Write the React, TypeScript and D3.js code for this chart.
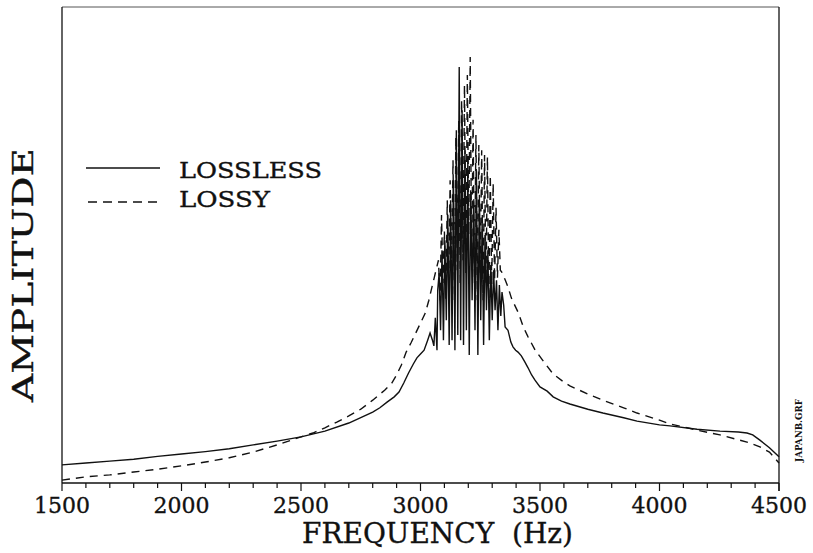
import React from "react";
import * as d3 from "d3";

// Frequency (Hz) and relative amplitude for the LOSSLESS curve
const FREQ_LOSSLESS = [
  1500, 1600, 1700, 1800, 1900, 2000, 2100, 2200, 2300, 2400, 2500, 2600, 2700,
  2800, 2830, 2860, 2890, 2910, 2930, 2950, 2970, 2985, 3000, 3015, 3030, 3040,
  3050, 3056, 3062, 3069, 3072, 3078, 3084, 3090, 3096, 3102, 3108, 3114, 3120,
  3126, 3132, 3138, 3144, 3150, 3156, 3162, 3168, 3174, 3180, 3186, 3192, 3198,
  3204, 3210, 3216, 3222, 3228, 3234, 3240, 3246, 3252, 3258, 3264, 3270, 3276,
  3282, 3288, 3294, 3300, 3306, 3312, 3318, 3324, 3330, 3336, 3341, 3348, 3354,
  3366, 3378, 3387, 3398, 3408, 3422, 3437, 3450, 3465, 3479, 3500, 3530, 3555,
  3590, 3625, 3700, 3763, 3850, 3906, 4000, 4044, 4157, 4253, 4330, 4366, 4390,
  4420, 4460, 4500,
];
const AMP_LOSSLESS = [
  3.8, 4.2, 4.6, 5.0, 5.6, 6.1, 6.6, 7.2, 8.0, 8.8, 9.7, 10.9, 12.6,
  14.9, 15.8, 17.0, 18.1, 19.1, 21.0, 23.1, 25.0, 26.3, 27.1, 27.9, 30.0, 31.5,
  30.0, 28.8, 34.7, 27.9, 40.5, 44.1, 32.1, 48.9, 30.0, 51.0, 34.2, 56.3, 29.0,
  59.4, 30.0, 63.6, 27.9, 74.1, 31.1, 87.4, 30.0, 78.3, 29.0, 69.9, 32.1, 67.8,
  26.9, 61.5, 38.4, 59.2, 32.1, 65.7, 26.9, 59.4, 34.2, 55.2, 29.0, 52.1, 36.3,
  48.9, 30.0, 45.8, 34.2, 44.7, 36.3, 42.6, 32.1, 41.6, 35.1, 40.1, 37.4, 32.8,
  32.1, 29.6, 28.6, 27.9, 27.5, 26.7, 25.4, 24.2, 22.7, 21.6, 20.2, 19.3, 18.1,
  17.2, 16.6, 15.5, 14.7, 13.7, 13.0, 12.2, 12.0, 11.3, 10.9, 10.7, 10.5, 10.1,
  9.0, 7.4, 5.5,
];

// Frequency (Hz) and relative amplitude for the LOSSY curve
const FREQ_LOSSY = [
  1500, 1600, 1700, 1800, 1900, 2000, 2100, 2200, 2300, 2400, 2500, 2550, 2600,
  2650, 2700, 2750, 2800, 2850, 2880, 2900, 2920, 2940, 2960, 2980, 3000, 3020,
  3035, 3050, 3065, 3075, 3082, 3088, 3094, 3100, 3106, 3112, 3118, 3124, 3130,
  3136, 3142, 3148, 3154, 3160, 3166, 3172, 3178, 3184, 3190, 3196, 3202, 3208,
  3214, 3220, 3226, 3232, 3238, 3244, 3250, 3256, 3262, 3268, 3274, 3280, 3286,
  3292, 3298, 3304, 3310, 3316, 3322, 3328, 3334, 3340, 3355, 3366, 3380, 3390,
  3410, 3430, 3450, 3480, 3520, 3555, 3600, 3625, 3700, 3763, 3850, 3906, 4000,
  4044, 4100, 4157, 4253, 4366, 4420, 4460, 4500,
];
const AMP_LOSSY = [
  0.6, 1.3, 1.7, 2.3, 2.9, 3.6, 4.4, 5.3, 6.5, 8.0, 9.7, 10.5, 11.6,
  12.8, 14.1, 15.5, 17.4, 19.5, 21.0, 22.7, 24.8, 27.5, 29.4, 31.5, 33.6, 35.7,
  38.4, 41.6, 44.7, 46.8, 38.4, 56.3, 42.0, 52.9, 38.4, 59.4, 42.0, 63.6, 44.1,
  67.8, 38.4, 72.7, 44.7, 76.3, 42.0, 80.5, 46.8, 83.6, 44.1, 85.7, 52.1, 89.5,
  44.7, 76.3, 42.0, 73.1, 38.4, 71.0, 44.1, 69.9, 38.4, 68.9, 42.0, 68.5, 38.4,
  64.7, 41.6, 63.0, 42.6, 57.8, 43.1, 53.2, 44.7, 44.3, 42.6, 41.2, 38.9, 37.8,
  35.7, 32.8, 30.7, 27.9, 25.2, 22.9, 21.2, 20.4, 18.7, 17.4, 15.8, 14.7, 13.2,
  12.4, 11.8, 11.1, 10.1, 8.6, 7.6, 6.5, 4.2,
];

const X_MAJOR_TICKS = [1500, 2000, 2500, 3000, 3500, 4000, 4500];
const X_LABEL = "FREQUENCY  (Hz)";
const Y_LABEL = "AMPLITUDE";
const SERIES_NAMES = ["LOSSLESS", "LOSSY"];
const FILE_TAG = "JAPANB.GRF";

export default function App() {
  const W = 813;
  const H = 553;
  const left = 62;
  const right = 779;
  const top = 7;
  const bottom = 483;

  const x = d3.scaleLinear().domain([1500, 4500]).range([left, right]);
  const y = d3.scaleLinear().domain([0, 100]).range([bottom, top]);

  const line = d3
    .line<[number, number]>()
    .x((d) => x(d[0]))
    .y((d) => y(d[1]));

  const lossless: [number, number][] = FREQ_LOSSLESS.map((f, i) => [f, AMP_LOSSLESS[i]]);
  const lossy: [number, number][] = FREQ_LOSSY.map((f, i) => [f, AMP_LOSSY[i]]);

  const minorTicks = x.ticks(30);
  const font = "'DejaVu Serif', 'Liberation Serif', serif";
  const textStroke = { stroke: "#111", strokeWidth: 0.35 };

  return (
    <svg
      width={W}
      height={H}
      style={{ position: "absolute", left: 0, top: 0, background: "#fff" }}
    >
      <rect x={0} y={0} width={W} height={H} fill="#fff" />
      {/* frame */}
      <line x1={left} x2={right} y1={top} y2={top} stroke="#555" strokeWidth={1} />
      <line x1={left} x2={left} y1={top} y2={bottom} stroke="#111" strokeWidth={1.3} />
      <line x1={right} x2={right} y1={top} y2={bottom + 8} stroke="#111" strokeWidth={1.3} />
      <line x1={left} x2={right} y1={bottom} y2={bottom} stroke="#111" strokeWidth={1.5} />
      {/* ticks */}
      {minorTicks.map((t) => (
        <line
          key={"m" + t}
          x1={x(t)}
          x2={x(t)}
          y1={bottom}
          y2={bottom + (X_MAJOR_TICKS.includes(t) ? 8 : 5)}
          stroke="#111"
          strokeWidth={1.2}
        />
      ))}
      {X_MAJOR_TICKS.map((t) => (
        <text
          key={"l" + t}
          x={x(t) - 28}
          y={513}
          fontFamily={font}
          fontSize={22}
          fill="#111"
          textLength={56}
          lengthAdjust="spacingAndGlyphs"
          {...textStroke}
        >
          {t}
        </text>
      ))}
      <text
        x={302}
        y={543}
        fontFamily={font}
        fontSize={28}
        fill="#111"
        textLength={271}
        lengthAdjust="spacingAndGlyphs"
        style={{ whiteSpace: "pre" }}
        {...textStroke}
      >
        {X_LABEL}
      </text>
      <text
        transform={`translate(33,402) rotate(-90)`}
        fontFamily={font}
        fontSize={28}
        fill="#111"
        textLength={254}
        lengthAdjust="spacingAndGlyphs"
        {...textStroke}
      >
        {Y_LABEL}
      </text>
      <text
        transform={`translate(802,462) rotate(-90)`}
        fontFamily={font}
        fontSize={8.5}
        fontWeight="bold"
        fill="#111"
        textLength={63}
        lengthAdjust="spacingAndGlyphs"
      >
        {FILE_TAG}
      </text>
      {/* curves */}
      <path d={line(lossless) || ""} fill="none" stroke="#111" strokeWidth={1.4} />
      <path
        d={line(lossy) || ""}
        fill="none"
        stroke="#111"
        strokeWidth={1.4}
        strokeDasharray="8,6"
      />
      {/* legend */}
      <line x1={86} x2={160} y1={168} y2={168} stroke="#111" strokeWidth={1.4} />
      <line
        x1={88}
        x2={162}
        y1={202}
        y2={202}
        stroke="#111"
        strokeWidth={1.4}
        strokeDasharray="9,6"
      />
      <text
        x={179}
        y={178}
        fontFamily={font}
        fontSize={22}
        fill="#111"
        textLength={143}
        lengthAdjust="spacingAndGlyphs"
        {...textStroke}
      >
        {SERIES_NAMES[0]}
      </text>
      <text
        x={179}
        y={207}
        fontFamily={font}
        fontSize={22}
        fill="#111"
        textLength={91}
        lengthAdjust="spacingAndGlyphs"
        {...textStroke}
      >
        {SERIES_NAMES[1]}
      </text>
    </svg>
  );
}
